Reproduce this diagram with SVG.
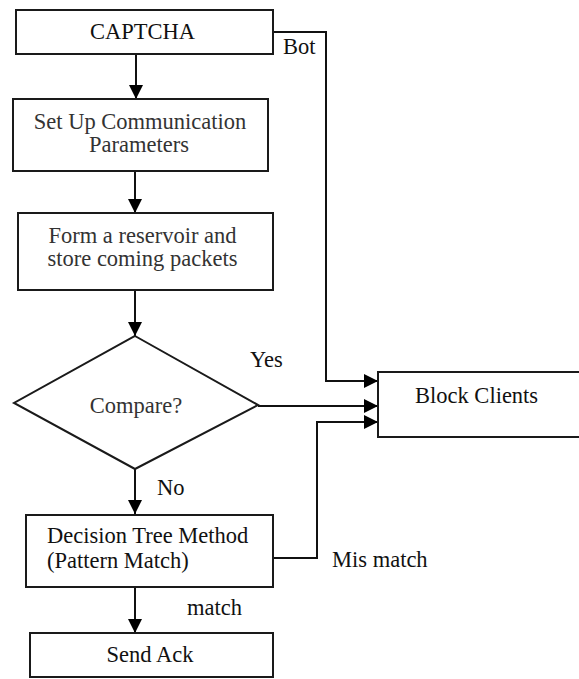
<svg xmlns="http://www.w3.org/2000/svg" width="579" height="679" viewBox="0 0 579 679">
<style>
.box{fill:#fff;stroke:#1a1a1a;stroke-width:2}
.ln{fill:none;stroke:#111;stroke-width:2}
text{font-family:'Liberation Serif','DejaVu Serif','Times New Roman',serif;font-size:22.5px;fill:#111}
.lt{fill:#333}
.mid{text-anchor:middle}
</style>
<defs>
<marker id="ah" viewBox="0 0 14 14" refX="14" refY="7" markerWidth="14" markerHeight="14" markerUnits="userSpaceOnUse" orient="auto">
<path d="M0,0 L14,7 L0,14 Z" fill="#000"/>
</marker>
</defs>
<rect width="579" height="679" fill="#fff"/>
<g id="connectors">
<line class="ln" x1="136" y1="54" x2="136" y2="99" marker-end="url(#ah)"/>
<line class="ln" x1="135" y1="171" x2="135" y2="213" marker-end="url(#ah)"/>
<line class="ln" x1="135" y1="290" x2="135" y2="336" marker-end="url(#ah)"/>
<line class="ln" x1="135" y1="469" x2="135" y2="514" marker-end="url(#ah)"/>
<line class="ln" x1="135" y1="587" x2="135" y2="633" marker-end="url(#ah)"/>
<polyline class="ln" points="273,32 326,32 326,381 378,381" marker-end="url(#ah)"/>
<line class="ln" x1="258" y1="406" x2="378" y2="406" marker-end="url(#ah)"/>
<polyline class="ln" points="273,558 317,558 317,422 378,422" marker-end="url(#ah)"/>
<text x="283" y="54">Bot</text>
<text x="250" y="367">Yes</text>
<text x="157" y="495">No</text>
<text x="187" y="615">match</text>
<text x="332" y="567">Mis match</text>
</g>
<g id="captcha">
<rect class="box" x="16" y="10" width="257" height="44"/>
<text class="mid" x="142.5" y="39">CAPTCHA</text>
</g>
<g id="setup">
<rect class="box" x="13" y="99" width="255" height="72"/>
<text class="mid lt" x="140" y="129">Set Up Communication</text>
<text class="mid lt" x="139" y="152">Parameters</text>
</g>
<g id="reservoir">
<rect class="box" x="18" y="213" width="255" height="77"/>
<text class="mid lt" x="142.5" y="243">Form a reservoir and</text>
<text class="mid lt" x="142.5" y="266">store coming packets</text>
</g>
<g id="compare">
<polygon class="box" points="135,336 258,405 135,469 14,403"/>
<text class="mid lt" x="136" y="413">Compare?</text>
</g>
<g id="block">
<rect class="box" x="378" y="372" width="202" height="65"/>
<text x="415" y="403">Block Clients</text>
</g>
<g id="decision">
<rect class="box" x="26" y="515" width="247" height="72"/>
<text x="47" y="543">Decision Tree Method</text>
<text x="47" y="568">(Pattern Match)</text>
</g>
<g id="sendack">
<rect class="box" x="30" y="633" width="243" height="44"/>
<text class="mid" x="150" y="662">Send Ack</text>
</g>
</svg>
